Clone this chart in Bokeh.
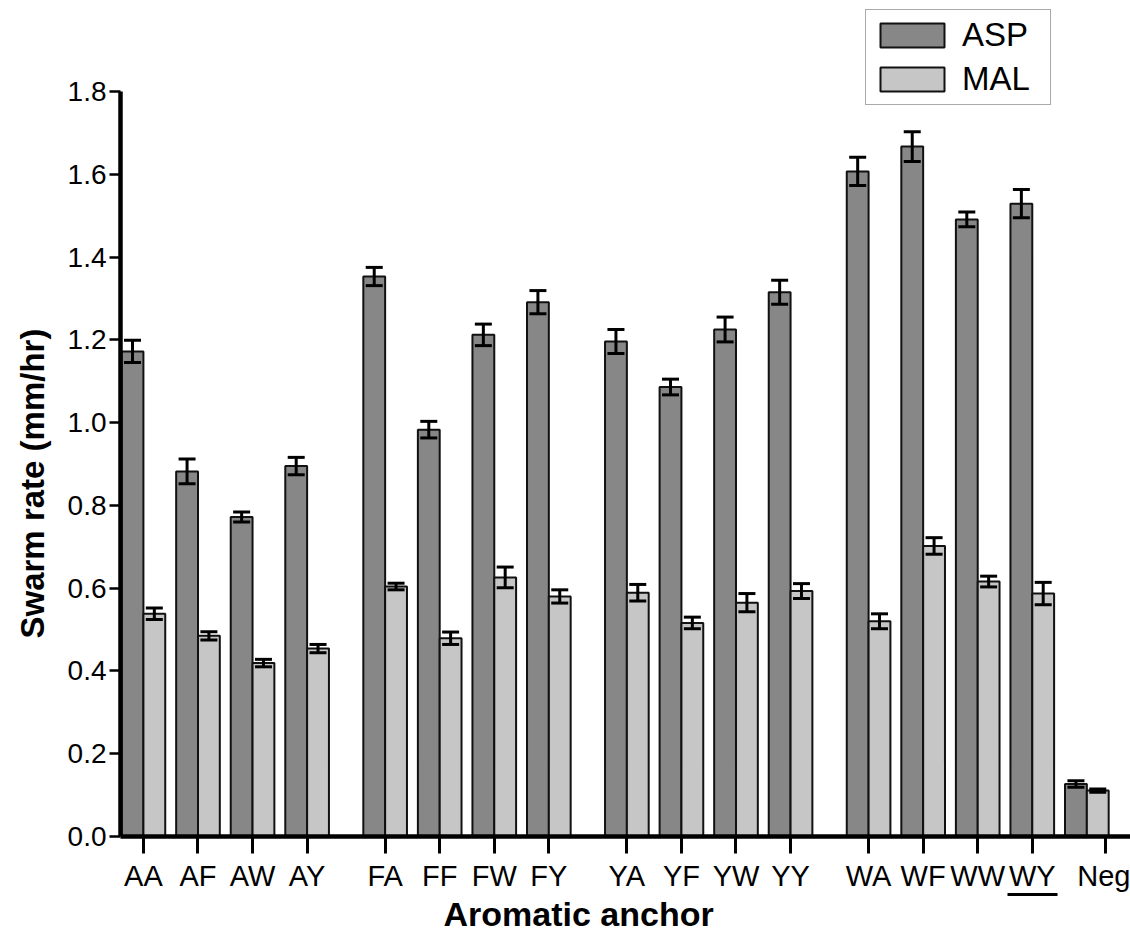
import math
from bokeh.plotting import figure
from bokeh.models import (ColumnDataSource, Range1d, FixedTicker, PrintfTickFormatter,
                          Whisker, Legend, LegendItem, TeeHead, Title, LinearAxis)
from bokeh.embed import file_html
from bokeh.resources import INLINE

categories = ["AA", "AF", "AW", "AY", "FA", "FF", "FW", "FY",
              "YA", "YF", "YW", "YY", "WA", "WF", "WW", "WY", "Neg"]
asp = [1.172, 0.882, 0.772, 0.895, 1.353, 0.983, 1.212, 1.291,
       1.196, 1.086, 1.225, 1.315, 1.607, 1.667, 1.491, 1.529, 0.127]
asp_err = [0.027, 0.030, 0.012, 0.021, 0.022, 0.020, 0.026, 0.028,
           0.029, 0.019, 0.030, 0.029, 0.034, 0.036, 0.018, 0.034, 0.008]
mal = [0.538, 0.485, 0.419, 0.454, 0.604, 0.479, 0.626, 0.580,
       0.589, 0.516, 0.565, 0.593, 0.520, 0.702, 0.616, 0.587, 0.111]
mal_err = [0.014, 0.010, 0.009, 0.010, 0.008, 0.015, 0.025, 0.016,
           0.020, 0.014, 0.022, 0.018, 0.018, 0.020, 0.013, 0.027, 0.004]
y_ticks = [0.0, 0.2, 0.4, 0.6, 0.8, 1.0, 1.2, 1.4, 1.6, 1.8]
series_names = ["ASP", "MAL"]
x_title = "Aromatic anchor"
y_title = "Swarm rate (mm/hr)"
underlined = "WY"

FONT = "Liberation Sans"
ASP_COLOR = "#878787"
MAL_COLOR = "#c6c6c6"

# positions: groups of four with a gap, Neg after
GROUP_STEP = 4.43
pos = []
for i, c in enumerate(categories[:-1]):
    g, m = divmod(i, 4)
    pos.append(g * GROUP_STEP + m)
pos.append(3 * GROUP_STEP + 4)
tick_pos = pos[:-1] + [pos[-1] + 0.34]

BW = 0.4
src_a = ColumnDataSource(dict(x=[p - BW / 2 for p in pos], top=asp,
                              upper=[v + e for v, e in zip(asp, asp_err)],
                              lower=[v - e for v, e in zip(asp, asp_err)]))
src_m = ColumnDataSource(dict(x=[p + BW / 2 for p in pos], top=mal,
                              upper=[v + e for v, e in zip(mal, mal_err)],
                              lower=[v - e for v, e in zip(mal, mal_err)]))

p = figure(width=1130, height=933, output_backend="svg", toolbar_location=None,
           x_range=Range1d(-0.42, 18.09), y_range=Range1d(0, 1.8 * 836 / 745),
           min_border_left=120, min_border_right=0, min_border_top=0,
           min_border_bottom=97)
p.outline_line_color = None
p.xgrid.visible = False
p.ygrid.visible = False
p.background_fill_color = "white"

ra = p.vbar(x="x", top="top", width=BW, bottom=0, source=src_a,
            fill_color=ASP_COLOR, line_color="#111111", line_width=2)
rm = p.vbar(x="x", top="top", width=BW, bottom=0, source=src_m,
            fill_color=MAL_COLOR, line_color="#111111", line_width=2)

for s in (src_a, src_m):
    w = Whisker(base="x", upper="upper", lower="lower", source=s,
                line_color="black", line_width=3, level="overlay",
                upper_head=TeeHead(size=17, line_width=3, line_color="black"),
                lower_head=TeeHead(size=17, line_width=3, line_color="black"))
    p.add_layout(w)

# axes
p.yaxis.ticker = FixedTicker(ticks=y_ticks)
p.yaxis.formatter = PrintfTickFormatter(format="%.1f")
p.yaxis.bounds = (0, 1.8)
p.yaxis.axis_line_width = 4.5
p.yaxis.major_tick_line_width = 2.5
p.yaxis.major_tick_out = 11
p.yaxis.major_tick_in = 0
p.yaxis.minor_tick_line_color = None
p.yaxis.major_label_text_font = FONT
p.yaxis.major_label_text_font_size = "28px"
p.yaxis.major_label_text_color = "black"
p.yaxis.major_label_standoff = 3

p.xaxis.ticker = FixedTicker(ticks=tick_pos)
p.xaxis.major_label_overrides = {t: c for t, c in zip(tick_pos, categories)}
p.xaxis.axis_line_width = 4.5
p.xaxis.major_tick_line_width = 3
p.xaxis.major_tick_out = 17
p.xaxis.major_tick_in = 0
p.xaxis.minor_tick_line_color = None
p.xaxis.major_label_text_font = FONT
p.xaxis.major_label_text_font_size = "29px"
p.xaxis.major_label_text_color = "black"
p.xaxis.major_label_standoff = 6

# underline under the WY label: a bounded, tickless extra axis line
wy = tick_pos[categories.index(underlined)]
ul = LinearAxis(ticker=FixedTicker(ticks=[]), bounds=(wy - 0.46, wy + 0.46),
                axis_line_color="black", axis_line_width=3,
                major_tick_line_color=None, minor_tick_line_color=None,
                major_tick_out=0, major_tick_in=0, major_label_text_font_size="0px",
                major_label_standoff=0)
p.add_layout(ul, "below")

p.add_layout(Title(text=x_title, align="left", offset=323, standoff=-4,
                   text_color="black", text_font=FONT, text_font_style="bold",
                   text_font_size="34px"), "below")
p.add_layout(Title(text=y_title, align="left", offset=198, standoff=24,
                   vertical_align="top",
                   text_color="black", text_font=FONT, text_font_style="bold",
                   text_font_size="33px"), "left")

legend = Legend(items=[LegendItem(label=series_names[0], renderers=[ra]),
                       LegendItem(label=series_names[1], renderers=[rm])],
                location=(745, 731), glyph_width=80, glyph_height=30,
                label_standoff=10, spacing=6, padding=6, margin=0,
                label_width=82, label_text_color="black",
                label_text_font=FONT, label_text_font_size="33px",
                border_line_color="#555555", border_line_width=1.5,
                background_fill_alpha=1)
p.add_layout(legend)

open("out.html", "w").write(file_html(p, INLINE))
